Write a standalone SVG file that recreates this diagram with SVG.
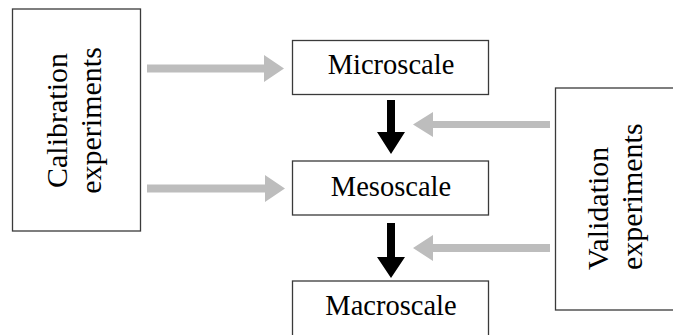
<svg xmlns="http://www.w3.org/2000/svg" width="673" height="335" viewBox="0 0 673 335">
  <style>
    .box { fill: #ffffff; stroke: #3a3a3a; stroke-width: 1.3; }
    .lbl { font-family: "Liberation Serif", "Times New Roman", serif; font-size: 28.5px; fill: #000000; text-anchor: middle; }
    .vlbl { font-family: "Liberation Serif", "Times New Roman", serif; font-size: 30px; fill: #000000; text-anchor: middle; }
    .vlbl-start { text-anchor: start; }
    .gray { fill: #bdbdbd; }
    .black { fill: #000000; }
  </style>

  <!-- calibration input block -->
  <g id="calibration">
    <rect class="box" x="12.5" y="9" width="128" height="222"/>
    <g transform="translate(0,120.5) rotate(-90)">
      <text class="vlbl" x="0" y="67">Calibration</text>
      <text class="vlbl" x="0" y="101">experiments</text>
    </g>
  </g>

  <!-- scale levels -->
  <g id="microscale">
    <rect class="box" x="292.5" y="40.5" width="196" height="54"/>
    <text class="lbl" x="391" y="74">Microscale</text>
  </g>
  <g id="mesoscale">
    <rect class="box" x="292.5" y="161" width="196" height="54"/>
    <text class="lbl" x="391" y="196">Mesoscale</text>
  </g>
  <g id="macroscale">
    <rect class="box" x="292.5" y="281" width="196" height="60"/>
    <text class="lbl" x="391" y="315">Macroscale</text>
  </g>

  <!-- validation block, runs past the right edge -->
  <g id="validation">
    <rect class="box" x="555.5" y="88" width="130" height="222"/>
    <g transform="translate(0,270) rotate(-90)">
      <text class="vlbl vlbl-start" x="0" y="608">Validation</text>
      <text class="vlbl vlbl-start" x="0" y="642">experiments</text>
    </g>
  </g>

  <!-- connectors -->
  <g id="connectors">
    <!-- calibration feeds -->
    <polygon class="gray" points="147,64.5 264,64.5 264,55 284,68.5 264,82 264,72.5 147,72.5"/>
    <polygon class="gray" points="147,184.5 265,184.5 265,175 285,188.5 265,202 265,192.5 147,192.5"/>
    <!-- validation feeds -->
    <polygon class="gray" points="550,121 433,121 433,112 413,124.5 433,137 433,128 550,128"/>
    <polygon class="gray" points="550,244 433,244 433,235 413,248 433,261 433,252 550,252"/>
    <!-- upscaling arrows -->
    <polygon class="black" points="387,100 395,100 395,132 405,132 391,154 377,132 387,132"/>
    <polygon class="black" points="387,223 395,223 395,257 405,257 391,278 377,257 387,257"/>
  </g>
</svg>
